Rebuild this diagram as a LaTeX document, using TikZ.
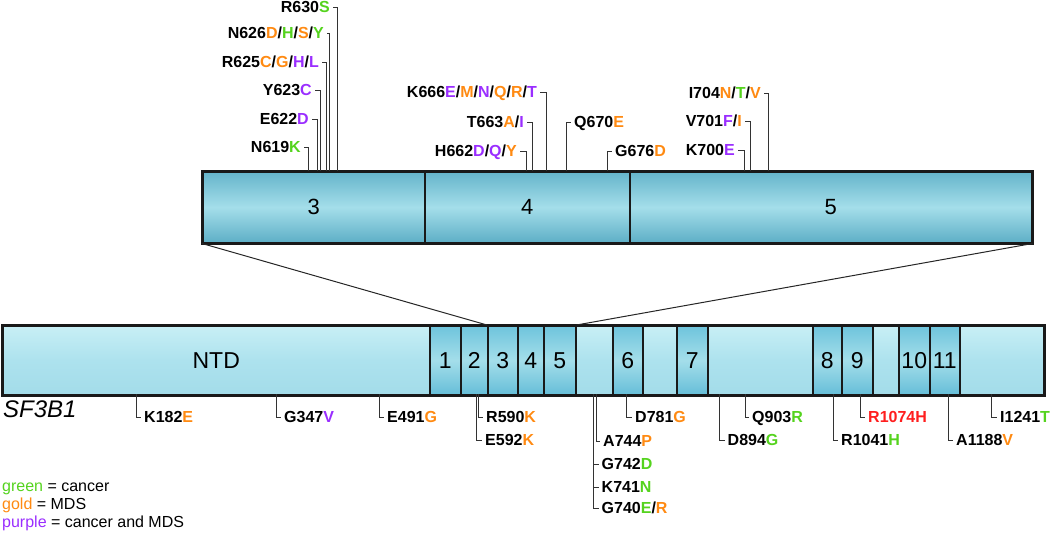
\documentclass[tikz,border=0pt]{standalone}
\usepackage{fontspec}
\setmainfont{Liberation Sans}
\setsansfont{Liberation Sans}
\definecolor{cgr}{HTML}{55D31E}
\definecolor{cgo}{HTML}{FF8A12}
\definecolor{cpu}{HTML}{9A2EFF}
\definecolor{cre}{HTML}{FF1E1E}
\definecolor{dtop}{HTML}{6EC4DC}
\definecolor{dmid}{HTML}{A4DEEA}
\definecolor{dbot}{HTML}{66BED8}
\definecolor{ltop}{HTML}{C8EFF5}
\definecolor{lmid}{HTML}{ADE2EE}
\definecolor{lbot}{HTML}{A3DCE9}
\newcommand{\Cgr}[1]{\textcolor{cgr}{#1}}
\newcommand{\Cgo}[1]{\textcolor{cgo}{#1}}
\newcommand{\Cpu}[1]{\textcolor{cpu}{#1}}
\newcommand{\Cre}[1]{\textcolor{cre}{#1}}
\begin{document}
\begin{tikzpicture}[x=1pt,y=-1pt,
  lab/.style={font=\fontsize{16}{18}\selectfont\bfseries, inner sep=0pt, text height=11.6pt, text depth=0pt},
  lead/.style={draw=black!80, line width=0.9pt},
  segbase/.style={draw=black!90, line width=1.5pt, inner sep=0pt, anchor=north west,
     font=\fontsize{23}{26}\selectfont, minimum height=69pt},
  dseg/.style={segbase, top color=dtop, bottom color=dbot, middle color=dmid},
  lseg/.style={segbase, top color=ltop, bottom color=lbot, middle color=lmid},
  zseg/.style={segbase, top color=dtop!92!black, bottom color=dbot!92!black, middle color=dmid, minimum height=71pt, font=\fontsize{22}{24}\selectfont},
  frame/.style={draw=black!90, line width=2pt},
  zoomline/.style={draw=black!85, line width=1pt},
  legend/.style={font=\fontsize{16}{18}\selectfont, inner sep=0pt, anchor=west, text height=11.6pt, text depth=3pt}
]
\useasboundingbox (0,0) rectangle (1050,535);

% ---- main bar ----
\node[lseg, minimum width=427pt] (ntd) at (2,325) {NTD};
\node[dseg, minimum width=31pt] (m1) at (429,325) {1};
\node[dseg, minimum width=27pt] (m2) at (460,325) {2};
\node[dseg, minimum width=30pt] (m3) at (487,325) {3};
\node[dseg, minimum width=26pt] (m4) at (517,325) {4};
\node[dseg, minimum width=32pt] (m5) at (543,325) {5};
\node[lseg, minimum width=37pt] (g1) at (575,325) {};
\node[dseg, minimum width=30pt] (m6) at (612,325) {6};
\node[lseg, minimum width=34pt] (g2) at (642,325) {};
\node[dseg, minimum width=31pt] (m7) at (676,325) {7};
\node[lseg, minimum width=105pt] (g3) at (707,325) {};
\node[dseg, minimum width=29pt] (m8) at (812,325) {8};
\node[dseg, minimum width=31pt] (m9) at (841,325) {9};
\node[lseg, minimum width=26pt] (g4) at (872,325) {};
\node[dseg, minimum width=31pt] (m10) at (898,325) {10};
\node[dseg, minimum width=30pt] (m11) at (929,325) {11};
\node[lseg, minimum width=84pt] (g5) at (959,325) {};
\draw[frame] (ntd.north west) rectangle (g5.south east);

\node[font=\fontsize{24}{28}\selectfont\itshape, inner sep=0pt, anchor=west] (name) at (3,409) {SF3B1};

% ---- zoomed box ----
\node[zseg, minimum width=222pt] (z3) at (202,171) {3};
\node[zseg, minimum width=205pt] (z4) at (424,171) {4};
\node[zseg, minimum width=402pt] (z5) at (629,171) {5};
\draw[frame] (z3.north west) rectangle (z5.south east);

\draw[zoomline] (z3.south west) -- (m3.north west);
\draw[zoomline] (z5.south east) -- (m5.north east);

% ---- top labels ----
\foreach \n/\x in {619/308.3,622/317.3,623/320.7,625/326,626/329,630/337.3,662/526,663/532.7,666/546.7,670/566,676/607.3,700/744.3,701/750,704/768.3}
  \coordinate (c\n) at (\x,171);

\node[lab, anchor=east] (n630) at (330,7) {R630\Cgr{S}};
\node[lab, anchor=east] (n626) at (324,33) {N626\Cgo{D}/\Cgr{H}/\Cgo{S}/\Cgr{Y}};
\node[lab, anchor=east] (n625) at (319,62) {R625\Cgo{C}/\Cgo{G}/\Cpu{H}/\Cpu{L}};
\node[lab, anchor=east] (n623) at (312,90) {Y623\Cpu{C}};
\node[lab, anchor=east] (n622) at (309,119) {E622\Cpu{D}};
\node[lab, anchor=east] (n619) at (301,147) {N619\Cgr{K}};
\node[lab, anchor=east] (n666) at (537,92) {K666\Cpu{E}/\Cgo{M}/\Cpu{N}/\Cgo{Q}/\Cgo{R}/\Cpu{T}};
\node[lab, anchor=east] (n663) at (524,122) {T663\Cgo{A}/\Cpu{I}};
\node[lab, anchor=east] (n662) at (517,151) {H662\Cpu{D}/\Cpu{Q}/\Cgo{Y}};
\node[lab, anchor=west] (n670) at (574,122) {Q670\Cgo{E}};
\node[lab, anchor=west] (n676) at (615,151) {G676\Cgo{D}};
\node[lab, anchor=east] (n704) at (761,93) {I704\Cgo{N}/\Cgr{T}/\Cgo{V}};
\node[lab, anchor=east] (n701) at (742,121) {V701\Cpu{F}/\Cgo{I}};
\node[lab, anchor=east] (n700) at (735,150) {K700\Cpu{E}};

\foreach \n in {630,626,625,623,622,619,666,663,662,704,701,700}
  \draw[lead] ([xshift=3pt]n\n.east) -| (c\n);
\foreach \n in {670,676}
  \draw[lead] (c\n) |- ([xshift=-3pt]n\n.west);

% ---- bottom labels ----
\foreach \n/\x in {182/136,347/276,491/379,590/478,592/476,781/626,744/596,742/593,741/593,740/593,894/719.5,903/745.5,1041/833,1074/860,1188/948,1241/991.5}
  \coordinate (b\n) at (\x,394);

\node[lab, anchor=west] (k182) at (144,417) {K182\Cgo{E}};
\node[lab, anchor=west] (k347) at (284,417) {G347\Cpu{V}};
\node[lab, anchor=west] (k491) at (387,417) {E491\Cgo{G}};
\node[lab, anchor=west] (k590) at (486,417) {R590\Cgo{K}};
\node[lab, anchor=west] (k592) at (485,440) {E592\Cgo{K}};
\node[lab, anchor=west] (k781) at (635,417) {D781\Cgo{G}};
\node[lab, anchor=west] (k744) at (603,441) {A744\Cgo{P}};
\node[lab, anchor=west] (k742) at (601.5,464) {G742\Cgr{D}};
\node[lab, anchor=west] (k741) at (601.5,487) {K741\Cgr{N}};
\node[lab, anchor=west] (k740) at (601.5,508) {G740\Cgr{E}/\Cgo{R}};
\node[lab, anchor=west] (k894) at (727.5,440) {D894\Cgr{G}};
\node[lab, anchor=west] (k903) at (752,417) {Q903\Cgr{R}};
\node[lab, anchor=west] (k1041) at (841,440) {R1041\Cgr{H}};
\node[lab, anchor=west] (k1074) at (868,417) {\Cre{R1074H}};
\node[lab, anchor=west] (k1188) at (956,440) {A1188\Cgo{V}};
\node[lab, anchor=west] (k1241) at (1000,417) {I1241\Cgr{T}};

\foreach \n in {182,347,491,590,592,781,744,742,741,740,894,903,1041,1074,1188,1241}
  \draw[lead] (b\n) |- ([xshift=-3pt]k\n.west);

% ---- legend ----
\node[legend] (lg1) at (2,487) {\Cgr{green} = cancer};
\node[legend] (lg2) at (2,505) {\Cgo{gold} = MDS};
\node[legend] (lg3) at (2,523) {\Cpu{purple} = cancer and MDS};
\end{tikzpicture}
\end{document}
